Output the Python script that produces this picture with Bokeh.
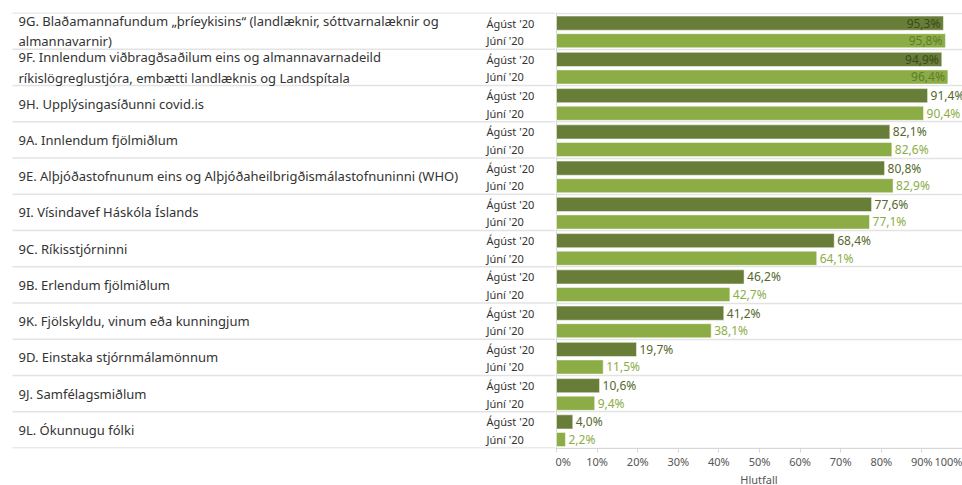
from bokeh.plotting import figure
from bokeh.layouts import row
from bokeh.models import Range1d, FixedTicker, ColumnDataSource
from bokeh.core.properties import value
from bokeh.embed import file_html
from bokeh.resources import INLINE

categories = [
    "9G. Blaðamannafundum „þríeykisins“ (landlæknir, sóttvarnalæknir og\nalmannavarnir)",
    "9F. Innlendum viðbragðsaðilum eins og almannavarnadeild\nríkislögreglustjóra, embætti landlæknis og Landspítala",
    "9H. Upplýsingasíðunni covid.is",
    "9A. Innlendum fjölmiðlum",
    "9E. Alþjóðastofnunum eins og Alþjóðaheilbrigðismálastofnuninni (WHO)",
    "9I. Vísindavef Háskóla Íslands",
    "9C. Ríkisstjórninni",
    "9B. Erlendum fjölmiðlum",
    "9K. Fjölskyldu, vinum eða kunningjum",
    "9D. Einstaka stjórnmálamönnum",
    "9J. Samfélagsmiðlum",
    "9L. Ókunnugu fólki",
]
series_names = ["Ágúst '20", "Júní '20"]
agust = [95.3, 94.9, 91.4, 82.1, 80.8, 77.6, 68.4, 46.2, 41.2, 19.7, 10.6, 4.0]
juni = [95.8, 96.4, 90.4, 82.6, 82.9, 77.1, 64.1, 42.7, 38.1, 11.5, 9.4, 2.2]
x_ticks = [0, 10, 20, 30, 40, 50, 60, 70, 80, 90, 100]
tick_labels = ["0%", "10%", "20%", "30%", "40%", "50%", "60%", "70%", "80%", "90%", "100%"]
axis_title = "Hlutfall"

FONT = "Noto Sans"
DARK = "#687d37"
LIGHT = "#8cad46"
SEP = "#e3e3e3"
n = len(categories)
pad = 0.5 / 36.25
X0, X1 = -0.25, 100
yr = Range1d(n + pad, -pad)

# left label panel
left = figure(frame_width=555, frame_height=436, x_range=Range1d(0, 555), y_range=yr,
              x_axis_location=None, y_axis_location=None, toolbar_location=None,
              output_backend="svg", min_border_top=12, min_border_bottom=37,
              min_border_left=0, min_border_right=0, outline_line_color=None)
left.grid.visible = False

bounds = list(range(n + 1))
left.segment(x0=[12] * len(bounds), x1=[555] * len(bounds), y0=bounds, y1=bounds,
             line_color=SEP, line_width=1.5)
gsrc = ColumnDataSource(dict(y=[i + 0.5 for i in range(n)], t=categories))
left.text(x=18, y="y", text="t", source=gsrc, text_font=value(FONT), text_font_size="13px",
          text_color="#333333", text_baseline="middle", text_align="left", text_line_height=1.15)
subs_y, subs_t = [], []
for i in range(n):
    subs_y += [i + 0.28, i + 0.765]
    subs_t += series_names
ssrc = ColumnDataSource(dict(y=subs_y, t=subs_t))
left.text(x=486, y="y", text="t", source=ssrc, text_font=value(FONT), text_font_size="11px",
          text_color="#333333", text_baseline="middle", text_align="left")

# bar panel
right = figure(frame_width=407, frame_height=436, x_range=Range1d(X0, X1), y_range=yr,
               y_axis_location=None, toolbar_location=None, output_backend="svg",
               min_border_top=12, min_border_bottom=37, min_border_left=0, min_border_right=0,
               outline_line_color=None)
right.grid.visible = False
right.hspan(y=bounds, line_color=SEP, line_width=1.5)
right.vspan(x=[0], line_color="#d8d8d8", line_width=1)

ya = [i + 0.28 for i in range(n)]
yj = [i + 0.765 for i in range(n)]
right.hbar(y=ya, left=0, right=agust, height=0.39, fill_color=DARK, line_color="white", line_width=0.5)
right.hbar(y=yj, left=0, right=juni, height=0.39, fill_color=LIGHT, line_color="white", line_width=0.5)

def fmt(v):
    return ("%.1f" % v).replace(".", ",") + "%"

for vals, ys, c_out, c_in in ((agust, ya, "#55672b", "#3c4a1c"), (juni, yj, LIGHT, "#5f7d2a")):
    inside = [v > 93 for v in vals]
    src_out = ColumnDataSource(dict(x=[v for v, f in zip(vals, inside) if not f],
                                    y=[y for y, f in zip(ys, inside) if not f],
                                    t=[fmt(v) for v, f in zip(vals, inside) if not f]))
    src_in = ColumnDataSource(dict(x=[v for v, f in zip(vals, inside) if f],
                                   y=[y for y, f in zip(ys, inside) if f],
                                   t=[fmt(v) for v, f in zip(vals, inside) if f]))
    right.text(x="x", y="y", text="t", source=src_out, x_offset=3, text_font=value(FONT),
               text_font_size="12px", text_color=c_out, text_baseline="middle", text_align="left")
    right.text(x="x", y="y", text="t", source=src_in, x_offset=-3, text_font=value(FONT),
               text_font_size="12px", text_color=c_in, text_baseline="middle", text_align="right")

ax = right.xaxis[0]
ax.ticker = FixedTicker(ticks=x_ticks)
ax.major_label_overrides = {t: l for t, l in zip(x_ticks, tick_labels)}
ax.axis_line_color = "#d8d8d8"
ax.major_tick_line_color = "#d8d8d8"
ax.major_tick_out = 4
ax.major_tick_in = 0
ax.minor_tick_line_color = None
ax.major_label_standoff = 1
ax.major_label_text_font = FONT
ax.major_label_text_font_size = "11px"
ax.major_label_text_color = "#555555"
ax.axis_label = axis_title
ax.axis_label_standoff = 0
ax.axis_label_text_font = FONT
ax.axis_label_text_font_size = "11px"
ax.axis_label_text_font_style = "normal"
ax.axis_label_text_color = "#555555"

p = row(left, right, spacing=0)
open("out.html", "w").write(file_html(p, INLINE))
